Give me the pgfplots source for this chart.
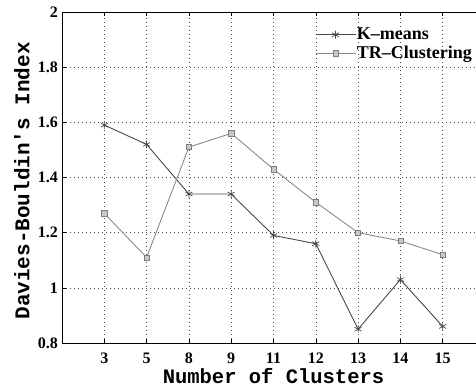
\documentclass[border=0pt]{standalone}
\usepackage{fontspec}
\setmainfont{Liberation Serif}
\newfontfamily\monofont{Liberation Mono}
\usepackage{pgfplots}
\pgfplotsset{compat=1.18}
\definecolor{kcol}{HTML}{4A4A4A}
\definecolor{tcol}{HTML}{8A8A8A}
\definecolor{tfill}{HTML}{C8C8C8}
\begin{document}
\begin{tikzpicture}
\useasboundingbox (-62bp,-44bp) rectangle (414bp,343bp);
\clip (-62bp,-44bp) rectangle (414bp,343bp);
\begin{axis}[
  at={(0,0)}, anchor=south west,
  scale only axis, width=423bp, height=331bp,
  xmin=0, xmax=10, ymin=0.8, ymax=2,
  enlargelimits=false,
  xtick={1,2,3,4,5,6,7,8,9},
  xticklabels={3,5,8,9,11,12,13,14,15},
  ytick={0.8,1,1.2,1.4,1.6,1.8,2},
  /pgf/number format/assume math mode=true,
  tick align=inside,
  major tick length=4bp,
  tick style={black, line width=0.6bp},
  axis line style={black, line width=0.8bp},
  grid=major,
  major grid style={black!70, line width=0.6bp, dash pattern=on 0.8bp off 3.2bp},
  ticklabel style={font=\fontsize{16bp}{16bp}\selectfont\bfseries},
  xticklabel style={inner sep=0pt, anchor=north, yshift=-9.5bp},
  yticklabel style={inner sep=0pt, anchor=east, xshift=-4bp},
  xlabel={Number of Clusters},
  ylabel={Davies-Bouldin's Index},
  every axis x label/.style={at={(axis description cs:0.5,-0.121)}, anchor=base, inner sep=0pt,
    font=\fontsize{20.5bp}{20.5bp}\monofont\bfseries},
  every axis y label/.style={at={(axis description cs:-0.0946,0.49)}, anchor=center, rotate=90,
    font=\fontsize{21bp}{21bp}\monofont\bfseries},
  legend style={at={(0.972,0.955)}, anchor=north east, draw=none, fill=none,
    font=\fontsize{18bp}{18bp}\selectfont\bfseries, inner sep=0pt,
    row sep=3bp, nodes={inner sep=1bp}},
  legend cell align=left,
  legend image code/.code={\draw[mark repeat=2,mark phase=2,#1] plot coordinates {(0bp,0bp) (20bp,0bp) (40bp,0bp)};},
]
\addplot[kcol, line width=0.9bp, mark=asterisk, mark size=4bp, mark options={line width=0.7bp}]
  coordinates {(1,1.59) (2,1.52) (3,1.34) (4,1.34) (5,1.19) (6,1.16) (7,0.85) (8,1.03) (9,0.86)};
\addlegendentry{\textbf{K--means}}
\addplot[tcol, line width=0.9bp, mark=square*, mark size=2.6bp, mark options={fill=tfill, draw=tcol!90!black, line width=0.6bp}]
  coordinates {(1,1.27) (2,1.11) (3,1.51) (4,1.56) (5,1.43) (6,1.31) (7,1.20) (8,1.17) (9,1.12)};
\addlegendentry{\textbf{TR--Clustering}}
\end{axis}
\end{tikzpicture}
\end{document}
